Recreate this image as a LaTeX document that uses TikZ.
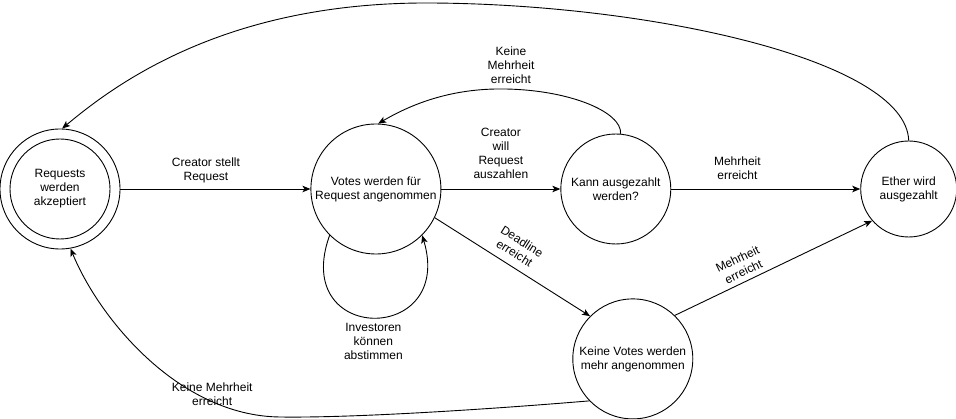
\documentclass[tikz,border=0pt]{standalone}
\usepackage{fontspec}
\setmainfont{Liberation Sans}
\usepackage{tikz}
\usetikzlibrary{positioning,arrows.meta}

\begin{document}
\begin{tikzpicture}[
  x=1pt, y=-1pt,
  zustand/.style={draw, circle, line width=0.9pt, inner sep=0pt,
                  align=center, font=\fontsize{12}{14}\selectfont},
  lbl/.style={align=center, inner sep=2pt,
              font=\fontsize{12}{14}\selectfont},
  pfeil/.style={-{Stealth[length=8pt,width=6.5pt,inset=2pt]},
                line width=0.9pt},
]
  \useasboundingbox (0,0) rectangle (956,419);

  %% Zustaende: obere Reihe, dann unten
  \node[zustand, minimum size=120pt] (req) at (60,189)
    {Requests\\werden\\akzeptiert};
  \draw[line width=0.9pt] (req.center) circle (50pt);
  \node[zustand, minimum size=130pt, right=190pt of req] (votes)
    {Votes werden f\"ur\\Request angenommen};
  \node[zustand, minimum size=110pt, right=119pt of votes] (kann)
    {Kann ausgezahlt\\werden?};
  \node[zustand, minimum size=96pt, right=189pt of kann] (ether)
    {Ether wird\\ausgezahlt};
  \node[zustand, minimum size=120pt, below=54pt of kann, xshift=17pt] (keine)
    {Keine Votes werden\\mehr angenommen};

  %% gerade Uebergaenge
  \draw[pfeil] (req) -- node[lbl, above=4pt, pos=0.45]
    {Creator stellt\\Request} (votes);
  \draw[pfeil] (votes) -- node[lbl, above=8pt]
    {Creator\\will\\Request\\auszahlen} (kann);
  \draw[pfeil] (kann) -- node[lbl, above=7pt, pos=0.35]
    {Mehrheit\\erreicht} (ether);
  \draw[pfeil] (votes.-26) -- node[lbl, sloped, above=6pt, pos=0.47]
    {Deadline\\erreicht} (keine.135);
  \draw[pfeil] (keine.46) -- node[lbl, sloped, above=3pt, pos=0.37]
    {Mehrheit\\erreicht} (ether.221);

  %% Schleife an votes
  \draw[pfeil] (votes.225) .. controls (290,345) and (455,345) .. (votes.-45)
    node[lbl, below=3pt, pos=0.5] {Investoren\\k\"onnen\\abstimmen};

  %% gebogene Rueckwege
  \draw[pfeil] (kann.85) .. controls (622,112) and (570,90) .. (505,89)
    node[lbl, above=3pt, xshift=6pt] {Keine\\Mehrheit\\erreicht}
    .. controls (450,88) and (410,105) .. (votes.88);
  \draw[pfeil] (ether.north) .. controls (906,60) and (650,4) .. (430,3)
    .. controls (230,2) and (120,80) .. (req.88);
  \draw[pfeil] (keine.224) .. controls (480,410) and (350,418) .. (280,417)
    .. controls (180,416) and (100,320) .. (req.-80)
    node[lbl, pos=0.25, above=-8pt, xshift=3pt] {Keine Mehrheit\\erreicht};
\end{tikzpicture}
\end{document}
